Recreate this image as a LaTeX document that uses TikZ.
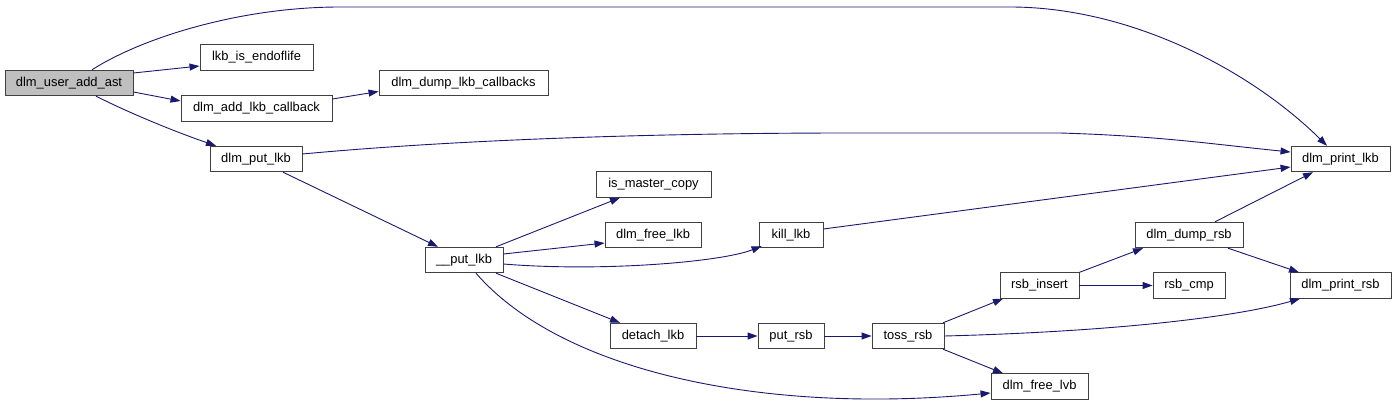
\documentclass[tikz,border=0pt]{standalone}
\usepackage{fontspec}
\setmainfont{Liberation Sans}
\usetikzlibrary{arrows.meta}
\definecolor{edgec}{HTML}{191970}
\definecolor{rootfill}{HTML}{BFBFBF}
\definecolor{bord}{HTML}{404040}
\begin{document}
\begin{tikzpicture}[x=1pt,y=-1pt,
  fn/.style={draw=bord, line width=0.9pt, fill=white, minimum height=25.5pt, inner sep=0pt,
    font=\fontsize{12.9}{15}\selectfont},
  call/.style={draw=edgec, line width=0.9pt, -{Triangle[length=10pt,width=7pt]}}]
\useasboundingbox (0,0) rectangle (1396,406);

\node[fn, fill=rootfill, minimum width=128pt] (root) at (69,83) {dlm\_user\_add\_ast};
\node[fn, minimum width=113pt] (eol) at (256.5,57.5) {lkb\_is\_endoflife};
\node[fn, minimum width=151pt] (addcb) at (256.5,108.5) {dlm\_add\_lkb\_callback};
\node[fn, minimum width=169pt] (dumpcb) at (463.5,83) {dlm\_dump\_lkb\_callbacks};
\node[fn, minimum width=92pt] (putlkb) at (256,159) {dlm\_put\_lkb};
\node[fn, minimum width=99pt] (printlkb) at (1340.5,159) {dlm\_print\_lkb};
\node[fn, minimum width=115pt] (master) at (653.5,184.5) {is\_master\_copy};
\node[fn, minimum width=96pt] (freelkb) at (653,235) {dlm\_free\_lkb};
\node[fn, minimum width=64pt] (kill) at (791,235) {kill\_lkb};
\node[fn, minimum width=78pt] (put) at (464,260) {\_\_put\_lkb};
\node[fn, minimum width=108pt] (dumprsb) at (1189,235) {dlm\_dump\_rsb};
\node[fn, minimum width=79pt] (rsbins) at (1039.5,285.5) {rsb\_insert};
\node[fn, minimum width=72pt] (rsbcmp) at (1189,285.5) {rsb\_cmp};
\node[fn, minimum width=101pt] (printrsb) at (1340.5,285.5) {dlm\_print\_rsb};
\node[fn, minimum width=86pt] (detach) at (653,336) {detach\_lkb};
\node[fn, minimum width=66pt] (putrsb) at (791,336) {put\_rsb};
\node[fn, minimum width=72pt] (toss) at (908,336) {toss\_rsb};
\node[fn, minimum width=97pt] (freelvb) at (1039.5,386.5) {dlm\_free\_lvb};

\draw[call] ([xshift=23pt]root.north) .. controls +(50,-32) and +(-100,0) .. (340,7) -- (1010,7)
  .. controls +(120,0) and +(-77,-76) .. ([xshift=-13.5pt]printlkb.north);
\draw[call] ([yshift=10pt]root.east) -- ([yshift=-8.5pt]eol.west);
\draw[call] ([yshift=-9pt]root.east) -- ([yshift=7.5pt]addcb.west);
\draw[call] ([xshift=27pt]root.south) .. controls +(40,20) and +(-35,-12) .. ([xshift=-40pt]putlkb.north);
\draw[call] ([yshift=9.5pt]addcb.east) -- ([yshift=-8.5pt]dumpcb.west);
\draw[call] ([yshift=5pt]putlkb.east) .. controls +(150,-14) and +(-200,0) .. (850,133) -- (1060,133)
  .. controls +(100,3) and +(-80,-8) .. ([yshift=7pt]printlkb.west);
\draw[call] ([xshift=27pt]putlkb.south) -- ([xshift=-26pt]put.north);
\draw[call] ([xshift=32pt]put.north) -- ([xshift=-33.5pt]master.south);
\draw[call] ([yshift=6pt]put.east) -- ([yshift=-8pt]freelkb.west);
\draw[call] ([yshift=-4pt]put.east) .. controls +(97,8) and +(-41,16) .. ([xshift=3pt,yshift=2pt]kill.south west);
\draw[call] ([xshift=32pt]put.south) -- ([xshift=-33pt]detach.north);
\draw[call] ([xshift=12pt]put.south) .. controls +(84,97) and +(-231,22) .. ([yshift=-6.5pt]freelvb.west);
\draw[call] (detach.east) -- (putrsb.west);
\draw[call] (putrsb.east) -- (toss.west);
\draw[call] ([yshift=6pt]kill.east) -- ([yshift=-8pt]printlkb.west);
\draw[call] ([xshift=35pt]toss.north) -- ([xshift=-36.5pt]rsbins.south);
\draw[call] (toss.east) .. controls +(156,-4) and +(-70,20) .. ([xshift=-40.5pt]printrsb.south);
\draw[call] ([xshift=35pt]toss.south) -- ([xshift=-36.5pt]freelvb.north);
\draw[call] (rsbins.north east) -- ([xshift=-46pt]dumprsb.south);
\draw[call] (rsbins.east) -- (rsbcmp.west);
\draw[call] ([xshift=26pt]dumprsb.north) -- ([xshift=-27.5pt]printlkb.south);
\draw[call] ([xshift=39pt]dumprsb.south) -- ([xshift=-41.5pt]printrsb.north);
\end{tikzpicture}
\end{document}
